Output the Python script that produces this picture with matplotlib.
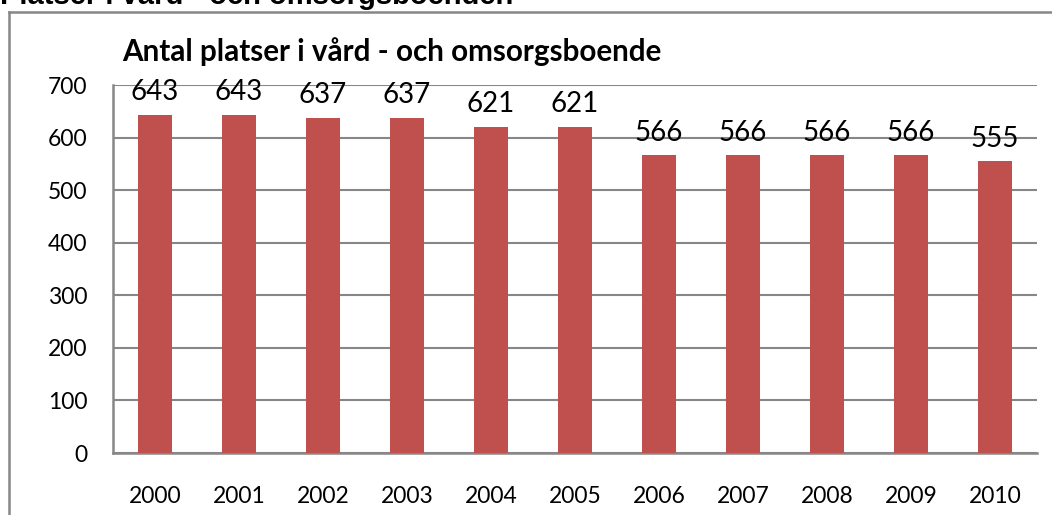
import matplotlib
matplotlib.use("Agg")
import matplotlib.pyplot as plt
from matplotlib.lines import Line2D

years = ["2000", "2001", "2002", "2003", "2004", "2005", "2006", "2007", "2008", "2009", "2010"]
platser = [643, 643, 637, 637, 621, 621, 566, 566, 566, 566, 555]
yticks = [0, 100, 200, 300, 400, 500, 600, 700]
title = "Antal platser i vård - och omsorgsboende"
page_heading = "Platser i vård - och omsorgsboenden"

W, H = 1052, 515
fig = plt.figure(figsize=(W / 100, H / 100), dpi=100)
fig.patch.set_facecolor("white")

gray = "#878787"
font = "Lato"

ax = fig.add_axes([113 / W, (H - 453) / H, (1037 - 113) / W, 368 / H])
x = list(range(len(years)))
bars = ax.bar(x, platser, width=0.40, color="#C0504D", zorder=3)
ax.set_xlim(-0.5, len(years) - 0.5)
ax.set_ylim(0, 700)
ax.set_yticks(yticks)
ax.set_yticklabels([str(t) for t in yticks], fontsize=16.5, family=font)
ax.set_xticks(x)
ax.set_xticklabels(years, fontsize=16.5, family=font)
ax.tick_params(axis="y", length=0, pad=18.5)
ax.tick_params(axis="x", length=0, pad=24)
ax.grid(axis="y", color=gray, linewidth=1.5, zorder=0)
for s in ["top", "right"]:
    ax.spines[s].set_visible(False)
for s in ["left", "bottom"]:
    ax.spines[s].set_color(gray)
    ax.spines[s].set_linewidth(1.8)

for xi, v in zip(x, platser):
    ax.annotate(str(v), (xi, v), xytext=(0, 7), textcoords="offset points",
                ha="center", va="bottom", fontsize=20, family=font)

fig.text(122 / W, 1 - 52 / H, title, fontsize=21.3, fontweight="bold",
         family=font, ha="left", va="center")

fig.text(0 / W, 1 - 4 / H, page_heading, fontsize=21, fontweight="bold",
         family="Liberation Sans", ha="left", va="baseline")

fig.add_artist(Line2D([9 / W, 9 / W], [0, 1 - 12 / H], color=gray, linewidth=1.8,
                      transform=fig.transFigure))
fig.add_artist(Line2D([9 / W, 1], [1 - 12 / H, 1 - 12 / H], color=gray, linewidth=1.8,
                      transform=fig.transFigure))

fig.savefig("out.png", dpi=100)
